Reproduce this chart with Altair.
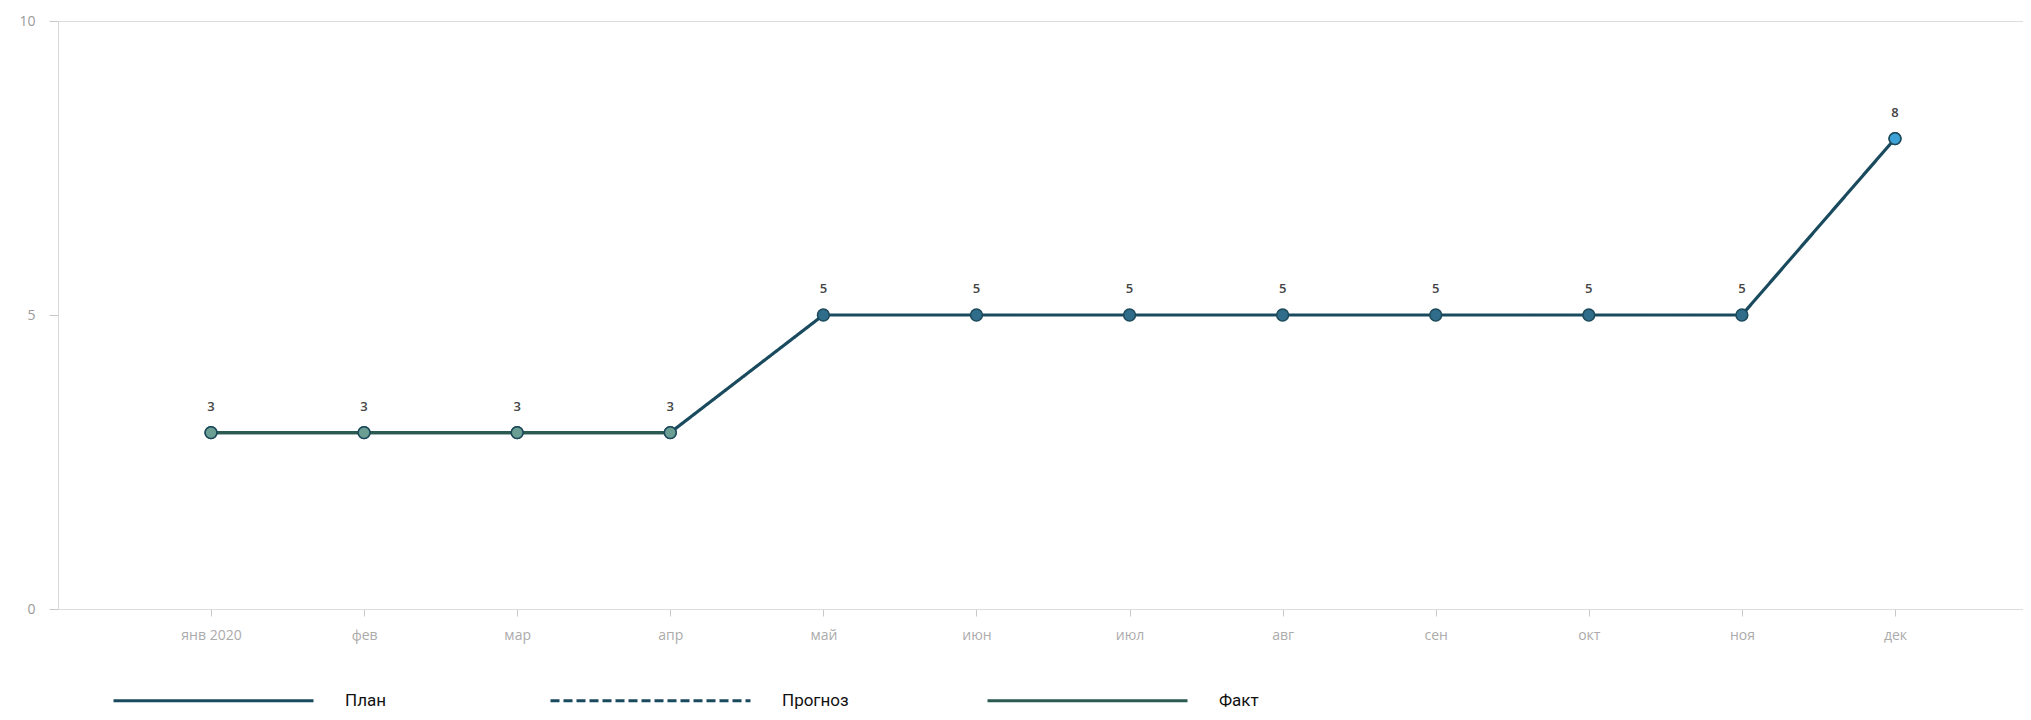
import altair as alt
import pandas as pd

months = ["янв 2020", "фев", "мар", "апр", "май", "июн", "июл", "авг", "сен", "окт", "ноя", "дек"]
plan = [3, 3, 3, 3, 5, 5, 5, 5, 5, 5, 5, 8]
forecast = [None, None, None, None, None, None, None, None, None, None, None, 8]
fact = [3, 3, 3, 3, None, None, None, None, None, None, None, None]
series_names = ["План", "Прогноз", "Факт"]

rows = []
for name, vals in zip(series_names, [plan, forecast, fact]):
    for m, v in zip(months, vals):
        if v is not None:
            rows.append({"month": m, "value": v, "series": name})
df = pd.DataFrame(rows)
labels_df = pd.DataFrame({"month": months, "value": plan})

x_enc = alt.X("month:O", sort=months, title=None,
              scale=alt.Scale(type="point", padding=0, range=[153, 1837]),
              axis=alt.Axis(labelAngle=0, labelColor="#ababab", labelFont="Open Sans",
                            labelFontSize=14, tickColor="#c8c8c8", tickSize=7,
                            domainColor="#dddddd", labelPadding=12, grid=False))
y_enc = alt.Y("value:Q", title=None,
              scale=alt.Scale(domain=[0, 10], nice=False, zero=True),
              axis=alt.Axis(values=[0, 5, 10], labelColor="#9a9a9a", labelFont="Open Sans",
                            labelFontSize=14, tickColor="#c8c8c8", tickSize=9,
                            domainColor="#d8d8d8", labelPadding=14, grid=False))

color_scale = alt.Scale(domain=series_names, range=["#1a4a5e", "#1a4a5e", "#2b5a50"])
dash_scale = alt.Scale(domain=series_names, range=[[1, 0], [9, 4], [1, 0]])

legend = alt.Legend(title=None, orient="none", legendX=54, legendY=578, direction="horizontal",
                    symbolType="stroke", symbolSize=40000, symbolStrokeWidth=3,
                    labelFont="Roboto", labelFontSize=17, labelColor="#111111",
                    labelOffset=30, columnPadding=132, gridAlign="all")

base = alt.Chart(df)

def line_layer(name):
    return base.transform_filter(alt.datum.series == name).mark_line(strokeWidth=3.2).encode(
        x=x_enc, y=y_enc,
        color=alt.Color("series:N", scale=color_scale, legend=legend),
        strokeDash=alt.StrokeDash("series:N", scale=dash_scale, legend=legend),
    )

points = base.mark_circle(size=140, opacity=1, stroke="#1c4a5a", strokeWidth=1.5).encode(
    x=x_enc, y=y_enc,
    fill=alt.Fill("series:N", scale=alt.Scale(domain=series_names,
                                              range=["#2f6d8a", "#3ea2d6", "#6b9f94"]),
                  legend=None),
)

texts = alt.Chart(labels_df).mark_text(dy=-26, fontSize=13, fontWeight=600,
                                       font="Open Sans", color="#444444").encode(
    x=x_enc, y=y_enc, text=alt.Text("value:Q"))

chart = alt.layer(line_layer("План"), line_layer("Прогноз"), line_layer("Факт"), points, texts).properties(
    width=1965, height=588,
    autosize=alt.AutoSizeParams(type="none"),
    padding={"left": 50, "top": 13, "right": 0, "bottom": 103},
).configure_view(stroke="#ececec").configure(background="white")

chart.save("out.html", embed_options={"renderer": "svg", "actions": False})
